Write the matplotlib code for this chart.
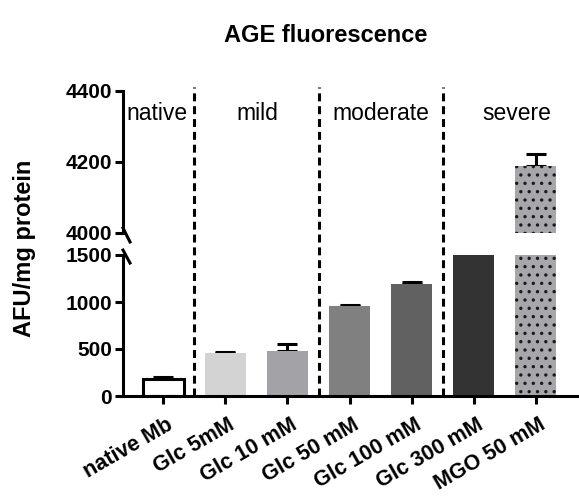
import matplotlib
matplotlib.use('Agg')
import matplotlib.pyplot as plt
import numpy as np

# data
samples = ['native Mb', 'Glc 5mM', 'Glc 10 mM', 'Glc 50 mM', 'Glc 100 mM', 'Glc 300 mM', 'MGO 50 mM']
means = [185, 455, 478, 958, 1190, 2400, 4190]
errs = [20, 15, 75, 12, 18, 0, 32]
colors = ['#ffffff', '#d3d3d3', '#a2a2a7', '#808080', '#616161', '#333333', '#a6a6ab']
groups = ['native', 'mild', 'moderate', 'severe']
group_x = [-0.10, 1.51, 3.51, 5.69]
separators = [0.5, 2.5, 4.5]

plt.rcParams['font.family'] = ['Liberation Sans', 'DejaVu Sans']
plt.rcParams['hatch.linewidth'] = 1.2
plt.rcParams['hatch.color'] = '#1a1a1a'

fig = plt.figure(figsize=(5.79, 4.96), dpi=100)
W, H = 579, 496
left, right = 123 / W, 578 / W
ax_low = fig.add_axes([left, 1 - 396 / H, right - left, 141 / H])
ax_high = fig.add_axes([left, 1 - 233 / H, right - left, 142 / H])

x = np.arange(len(samples))
lw = 2.2

for ax in (ax_low, ax_high):
    ax.patch.set_visible(False)
    bars = ax.bar(x, means, width=0.66, color=colors, edgecolor='none', zorder=2)
    # native sample: open bar
    bars[0].set_edgecolor('black')
    bars[0].set_linewidth(lw)
    bars[-1].set_hatch('..')
    bars[-1].set_edgecolor('#1a1a1a')
    bars[-1].set_linewidth(0)
    ax.errorbar(x, means, yerr=[np.zeros(len(errs)), errs], fmt='none', ecolor='black',
                elinewidth=lw, capsize=7.5, capthick=lw, zorder=1)
    ax.set_xlim(-0.65, 6.68)
    ax.spines['top'].set_visible(False)
    ax.spines['right'].set_visible(False)
    ax.spines['left'].set_linewidth(lw)
    ax.spines['bottom'].set_linewidth(lw)
    ax.tick_params(axis='y', width=lw, length=6, labelsize=15, pad=2)

ax_low.set_ylim(0, 1500)
ax_low.set_yticks([0, 500, 1000, 1500])
ax_low.set_yticklabels(['0', '500', '1000', '1500'], fontweight='bold', fontsize=15)
ax_low.set_xticks(x)
ax_low.set_xticklabels(samples, rotation=30, ha='right', va='top', rotation_mode='anchor',
                       fontweight='bold', fontsize=15.5)
ax_low.tick_params(axis='x', width=lw, length=6, pad=7)
# nudge the rotated labels slightly right
offset = matplotlib.transforms.ScaledTranslation(2 / 72, 0, fig.dpi_scale_trans)
for lab in ax_low.get_xticklabels():
    lab.set_transform(lab.get_transform() + offset)

ax_high.set_ylim(4000, 4400)
ax_high.set_yticks([4000, 4200, 4400])
ax_high.set_yticklabels(['4000', '4200', '4400'], fontweight='bold', fontsize=15)
ax_high.spines['bottom'].set_visible(False)
ax_high.set_xticks([])

# break marks on the y axis
ax_high.plot([0, 7 / 455], [0.035, -0.063], transform=ax_high.transAxes, color='black',
             lw=lw, clip_on=False)
ax_low.plot([0, 7 / 455], [1.035, 0.943], transform=ax_low.transAxes, color='black',
            lw=lw, clip_on=False)

# dashed separators across both panels
trans = matplotlib.transforms.blended_transform_factory(ax_low.transData, ax_low.transAxes)
for s in separators:
    ax_low.plot([s, s], [0, 2.19], transform=trans, color='black', lw=2.2,
                linestyle=(0, (2.6, 1.6)), clip_on=False, zorder=3)

for g, gx in zip(groups, group_x):
    ax_high.text(gx, 4338, g, ha='center', va='center', fontsize=16.5)

fig.text(326 / W, 1 - 35 / H, 'AGE fluorescence', ha='center', va='center',
         fontsize=17, fontweight='bold')
fig.text(25 / W, 1 - 248 / H, 'AFU/mg protein', ha='center', va='center', rotation=90,
         fontsize=17, fontweight='bold')

fig.savefig('out.png', dpi=100)
